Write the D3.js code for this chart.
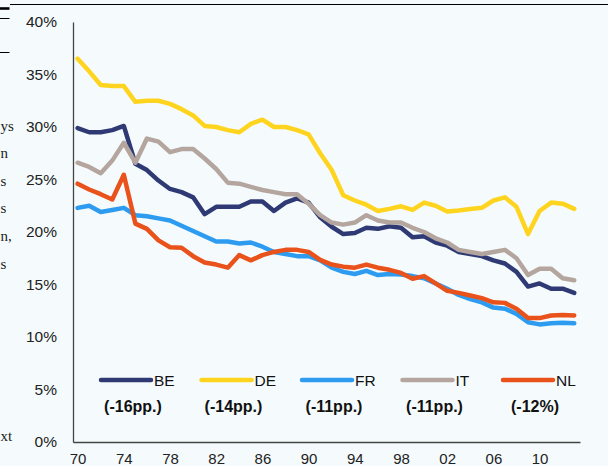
<!DOCTYPE html>
<html>
<head>
<meta charset="utf-8">
<script src="https://cdn.jsdelivr.net/npm/d3@7"></script>
<style>
  html, body { margin: 0; padding: 0; background: #f5fbfd; }
  svg { display: block; }
</style>
</head>
<body>
<svg id="svg"></svg>
<script>
const W = 608, H = 466;

const years = d3.range(1970, 2014);
const xTickYears = [1970, 1974, 1978, 1982, 1986, 1990, 1994, 1998, 2002, 2006, 2010];
const yTicks = [0, 5, 10, 15, 20, 25, 30, 35, 40];

const countries = ["BE", "DE", "FR", "IT", "NL"];
const changes = ["(-16pp.)", "(-14pp.)", "(-11pp.)", "(-11pp.)", "(-12%)"];
const colors = ["#2f3a75", "#ffd41f", "#2d9cf0", "#b4a69f", "#e9521b"];

const BE = [29.9, 29.5, 29.5, 29.7, 30.1, 26.5, 25.9, 24.9, 24.1, 23.8, 23.3, 21.7, 22.4, 22.4, 22.4, 22.9, 22.9, 22.0, 22.8, 23.2, 22.8, 21.4, 20.5, 19.8, 19.9, 20.4, 20.3, 20.55, 20.4, 19.5, 19.6, 19.0, 18.7, 18.1, 17.9, 17.7, 17.3, 17.0, 16.2, 14.8, 15.1, 14.6, 14.6, 14.2];
const DE = [36.5, 35.3, 34.0, 33.9, 33.9, 32.4, 32.5, 32.5, 32.2, 31.7, 31.1, 30.1, 30.0, 29.7, 29.5, 30.3, 30.7, 30.0, 30.0, 29.7, 29.3, 27.5, 25.9, 23.5, 23.0, 22.6, 22.0, 22.2, 22.45, 22.1, 22.8, 22.5, 21.95, 22.05, 22.2, 22.3, 23.0, 23.3, 22.4, 19.8, 22.0, 22.8, 22.7, 22.2];
const FR = [22.3, 22.5, 21.9, 22.1, 22.3, 21.6, 21.5, 21.3, 21.1, 20.6, 20.1, 19.6, 19.1, 19.1, 18.9, 19.0, 18.6, 18.1, 17.9, 17.7, 17.7, 17.3, 16.6, 16.2, 16.0, 16.3, 15.9, 16.0, 15.95, 15.8, 15.6, 15.1, 14.6, 14.0, 13.6, 13.3, 12.8, 12.7, 12.2, 11.4, 11.2, 11.3, 11.35, 11.3];
const IT = [26.6, 26.2, 25.6, 26.8, 28.5, 26.6, 28.9, 28.6, 27.6, 27.9, 27.9, 27.0, 26.0, 24.7, 24.6, 24.3, 24.0, 23.8, 23.6, 23.6, 22.7, 21.6, 20.9, 20.7, 20.9, 21.6, 21.1, 20.9, 20.9, 20.4, 20.0, 19.4, 19.0, 18.3, 18.1, 17.9, 18.1, 18.3, 17.5, 15.9, 16.5, 16.5, 15.6, 15.4];
const NL = [24.6, 24.05, 23.6, 23.1, 25.45, 20.8, 20.3, 19.2, 18.55, 18.5, 17.7, 17.1, 16.9, 16.6, 17.8, 17.3, 17.8, 18.1, 18.3, 18.3, 18.1, 17.35, 16.9, 16.7, 16.6, 16.9, 16.6, 16.4, 16.1, 15.55, 15.8, 15.1, 14.4, 14.2, 13.95, 13.7, 13.3, 13.25, 12.7, 11.8, 11.8, 12.05, 12.1, 12.05];

const seriesValues = [BE, DE, FR, IT, NL];

document.addEventListener("DOMContentLoaded", function () {
    const svg = d3.select("#svg").attr("width", W).attr("height", H);

    svg.append("rect").attr("width", W).attr("height", H).attr("fill", "#f5fbfd");

    // bits of the surrounding page at the left / top
    svg.append("line").attr("x1", 10).attr("x2", W).attr("y1", 4.5).attr("y2", 4.5)
        .attr("stroke", "#000").attr("stroke-width", 1.2);
    svg.append("line").attr("x1", 0).attr("x2", 9.5).attr("y1", 8.5).attr("y2", 8.5)
        .attr("stroke", "#000").attr("stroke-width", 2.6);
    svg.append("line").attr("x1", 0).attr("x2", 9.5).attr("y1", 18.5).attr("y2", 18.5)
        .attr("stroke", "#000").attr("stroke-width", 1);
    svg.append("line").attr("x1", 0).attr("x2", 9.5).attr("y1", 52.5).attr("y2", 52.5)
        .attr("stroke", "#000").attr("stroke-width", 1);

    const frag = [["ys", 131], ["n", 158], ["s", 186], ["s", 213], ["n,", 241], ["s", 269], ["xt", 441]];
    svg.selectAll("text.frag").data(frag).join("text")
        .attr("class", "frag")
        .attr("x", 0.5).attr("y", d => d[1])
        .attr("font-family", "Liberation Serif, serif")
        .attr("font-size", 15)
        .attr("fill", "#222")
        .text(d => d[0]);

    const x = d3.scaleLinear().domain([1969.6, 2013.5]).range([73, 580]);
    const y = d3.scaleLinear().domain([0, 40]).range([442, 22]);

    const yAxis = svg.append("g")
        .attr("transform", `translate(${x.range()[0]},0)`)
        .call(d3.axisLeft(y).tickValues(yTicks).tickFormat(d => d + "%").tickSize(0).tickPadding(16));
    yAxis.select(".domain").attr("stroke", "#444").attr("stroke-width", 1.3);
    yAxis.selectAll("text")
        .attr("font-family", "Liberation Sans, Arial, sans-serif")
        .attr("font-size", 15.5).attr("fill", "#222");

    const xAxis = svg.append("g")
        .attr("transform", `translate(0,${y.range()[0]})`)
        .call(d3.axisBottom(x).tickValues(xTickYears)
            .tickFormat(d => String(d).slice(2)).tickSize(0).tickPadding(11));
    xAxis.select(".domain").attr("stroke", "#444").attr("stroke-width", 1.3);
    xAxis.selectAll("text")
        .attr("font-family", "Liberation Sans, Arial, sans-serif")
        .attr("font-size", 15).attr("fill", "#222");

    const line = d3.line().x((d, i) => x(years[i])).y(d => y(d));

    svg.append("g").selectAll("path")
        .data(seriesValues)
        .join("path")
        .attr("d", d => line(d))
        .attr("fill", "none")
        .attr("stroke", (d, i) => colors[i])
        .attr("stroke-width", 4.5)
        .attr("stroke-linejoin", "round")
        .attr("stroke-linecap", "round");

    // legend
    const lx = d3.scaleLinear().domain([0, 4]).range([101, 503]);
    const leg = svg.append("g").selectAll("g")
        .data(countries)
        .join("g")
        .attr("transform", (d, i) => `translate(${lx(i)},380)`);
    leg.append("line")
        .attr("x1", 0).attr("x2", 50)
        .attr("stroke", (d, i) => colors[i])
        .attr("stroke-width", 4.5)
        .attr("stroke-linecap", "round");
    leg.append("text")
        .attr("x", 53).attr("dy", "0.36em")
        .attr("font-family", "Liberation Sans, Arial, sans-serif")
        .attr("font-size", 15.5).attr("fill", "#111")
        .text(d => d);
    leg.append("text")
        .attr("x", 32).attr("y", 26).attr("dy", "0.36em")
        .attr("text-anchor", "middle")
        .attr("font-family", "Liberation Sans, Arial, sans-serif")
        .attr("font-size", 16).attr("font-weight", "bold").attr("fill", "#111")
        .text((d, i) => changes[i]);
});
</script>
</body>
</html>
